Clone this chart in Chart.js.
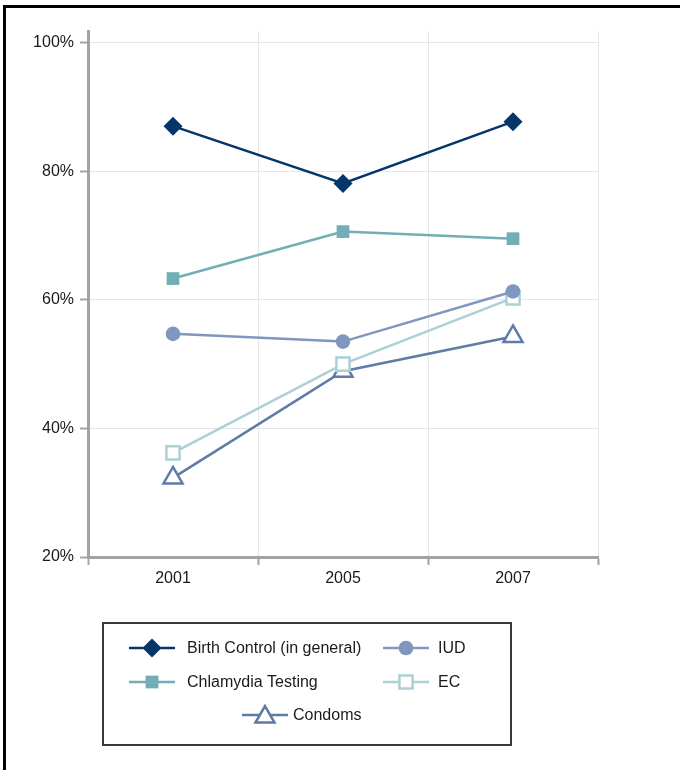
<!DOCTYPE html>
<html>
<head>
<meta charset="utf-8">
<script src="https://cdn.jsdelivr.net/npm/chart.js@4/dist/chart.umd.min.js"></script>
<style>
  html, body { margin: 0; padding: 0; background: #fff; overflow: hidden; }
  #wrap { position: relative; width: 680px; height: 770px; overflow: hidden; }
  #frame { position: absolute; left: 3px; top: 5px; width: 800px; height: 900px; border-top: 3px solid #000; border-left: 3px solid #000; }
  canvas { position: absolute; left: 0; top: 0; }
</style>
</head>
<body>
<div id="wrap">
  <div id="frame"></div>
  <canvas id="chart" width="680" height="770"></canvas>
</div>
<script>
var years = ['2001', '2005', '2007'];
var birthControl = [87.0, 78.1, 87.7];
var chlamydia = [63.3, 70.6, 69.5];
var iud = [54.7, 53.5, 61.3];
var ec = [36.2, 50.0, 60.3];
var condoms = [32.3, 48.9, 54.3];
var yTicks = [20, 40, 60, 80, 100];

var FONT = '"Liberation Sans", Arial, Helvetica, sans-serif';

function series(label, values, color, style, radius, fill) {
    return {
        label: label,
        data: values,
        borderColor: color,
        borderWidth: 2.5,
        pointStyle: style,
        pointRadius: radius,
        pointBorderWidth: fill ? 0 : 2.5,
        pointBackgroundColor: fill ? color : '#fff',
        pointBorderColor: color,
        fill: false,
        tension: 0
    };
}

var datasets = [
    series('Birth Control (in general)', birthControl, '#05366a', 'rectRot', 9.5, true),
    series('Chlamydia Testing', chlamydia, '#72aeb5', 'rect', 9, true),
    series('IUD', iud, '#7f96bf', 'circle', 7.3, true),
    series('EC', ec, '#abd1d5', 'rect', 9.3, false),
    series('Condoms', condoms, '#5f7ba6', 'triangle', 11, false)
];

// legend box under the plot: [dataset index, line start x, row y, text x]
var legendSlots = [[0, 129, 648, 187], [2, 383, 648, 438], [1, 129, 682, 187], [3, 383, 682, 438], [4, 242, 715, 293]];

var boxLegend = {
    id: 'boxLegend',
    afterDraw: function (chart) {
        var ctx = chart.ctx;
        ctx.save();
        ctx.strokeStyle = '#3a3a3a';
        ctx.lineWidth = 2;
        ctx.strokeRect(103, 623, 408, 122);
        ctx.font = '16px ' + FONT;
        ctx.textBaseline = 'middle';
        legendSlots.forEach(function (s) {
            var ds = chart.data.datasets[s[0]];
            var x = s[1], y = s[2];
            ctx.strokeStyle = ds.borderColor;
            ctx.lineWidth = 2.5;
            ctx.beginPath();
            ctx.moveTo(x, y);
            ctx.lineTo(x + 46, y);
            ctx.stroke();
            ctx.fillStyle = ds.pointBackgroundColor;
            ctx.lineWidth = ds.pointBorderWidth;
            Chart.helpers.drawPoint(ctx, {
                pointStyle: ds.pointStyle,
                radius: ds.pointRadius,
                borderWidth: ds.pointBorderWidth,
                rotation: 0
            }, x + 23, y + (ds.pointStyle === 'triangle' ? 2 : 0));
            ctx.fillStyle = '#1a1a1a';
            ctx.fillText(ds.label, s[3], y + 1);
        });
        ctx.restore();
    }
};

new Chart(document.getElementById('chart'), {
    type: 'line',
    data: { labels: years, datasets: datasets },
    plugins: [boxLegend],
    options: {
        responsive: false,
        animation: false,
        layout: { padding: { left: 0, right: 82, top: 31, bottom: 173 } },
        plugins: { legend: { display: false }, tooltip: { enabled: false } },
        scales: {
            x: {
                type: 'category',
                offset: true,
                afterFit: function (scale) { scale.height = 40; },
                grid: { color: '#e6e6e6', lineWidth: 1, offset: true, tickColor: '#a3a3a3', tickLength: 8, tickWidth: 2 },
                border: { color: '#a3a3a3', width: 3 },
                ticks: { color: '#1a1a1a', font: { family: FONT, size: 16 }, padding: 4 }
            },
            y: {
                min: 20,
                max: 101.8,
                afterFit: function (scale) { scale.width = 88; },
                afterBuildTicks: function (scale) {
                    scale.ticks = yTicks.map(function (v) { return { value: v }; });
                },
                grid: { color: '#e6e6e6', lineWidth: 1, tickColor: '#a3a3a3', tickLength: 8, tickWidth: 2 },
                border: { color: '#a3a3a3', width: 3 },
                ticks: {
                    color: '#1a1a1a',
                    font: { family: FONT, size: 16 },
                    padding: 6,
                    callback: function (v) { return v + '%'; }
                }
            }
        }
    }
});
</script>
</body>
</html>
